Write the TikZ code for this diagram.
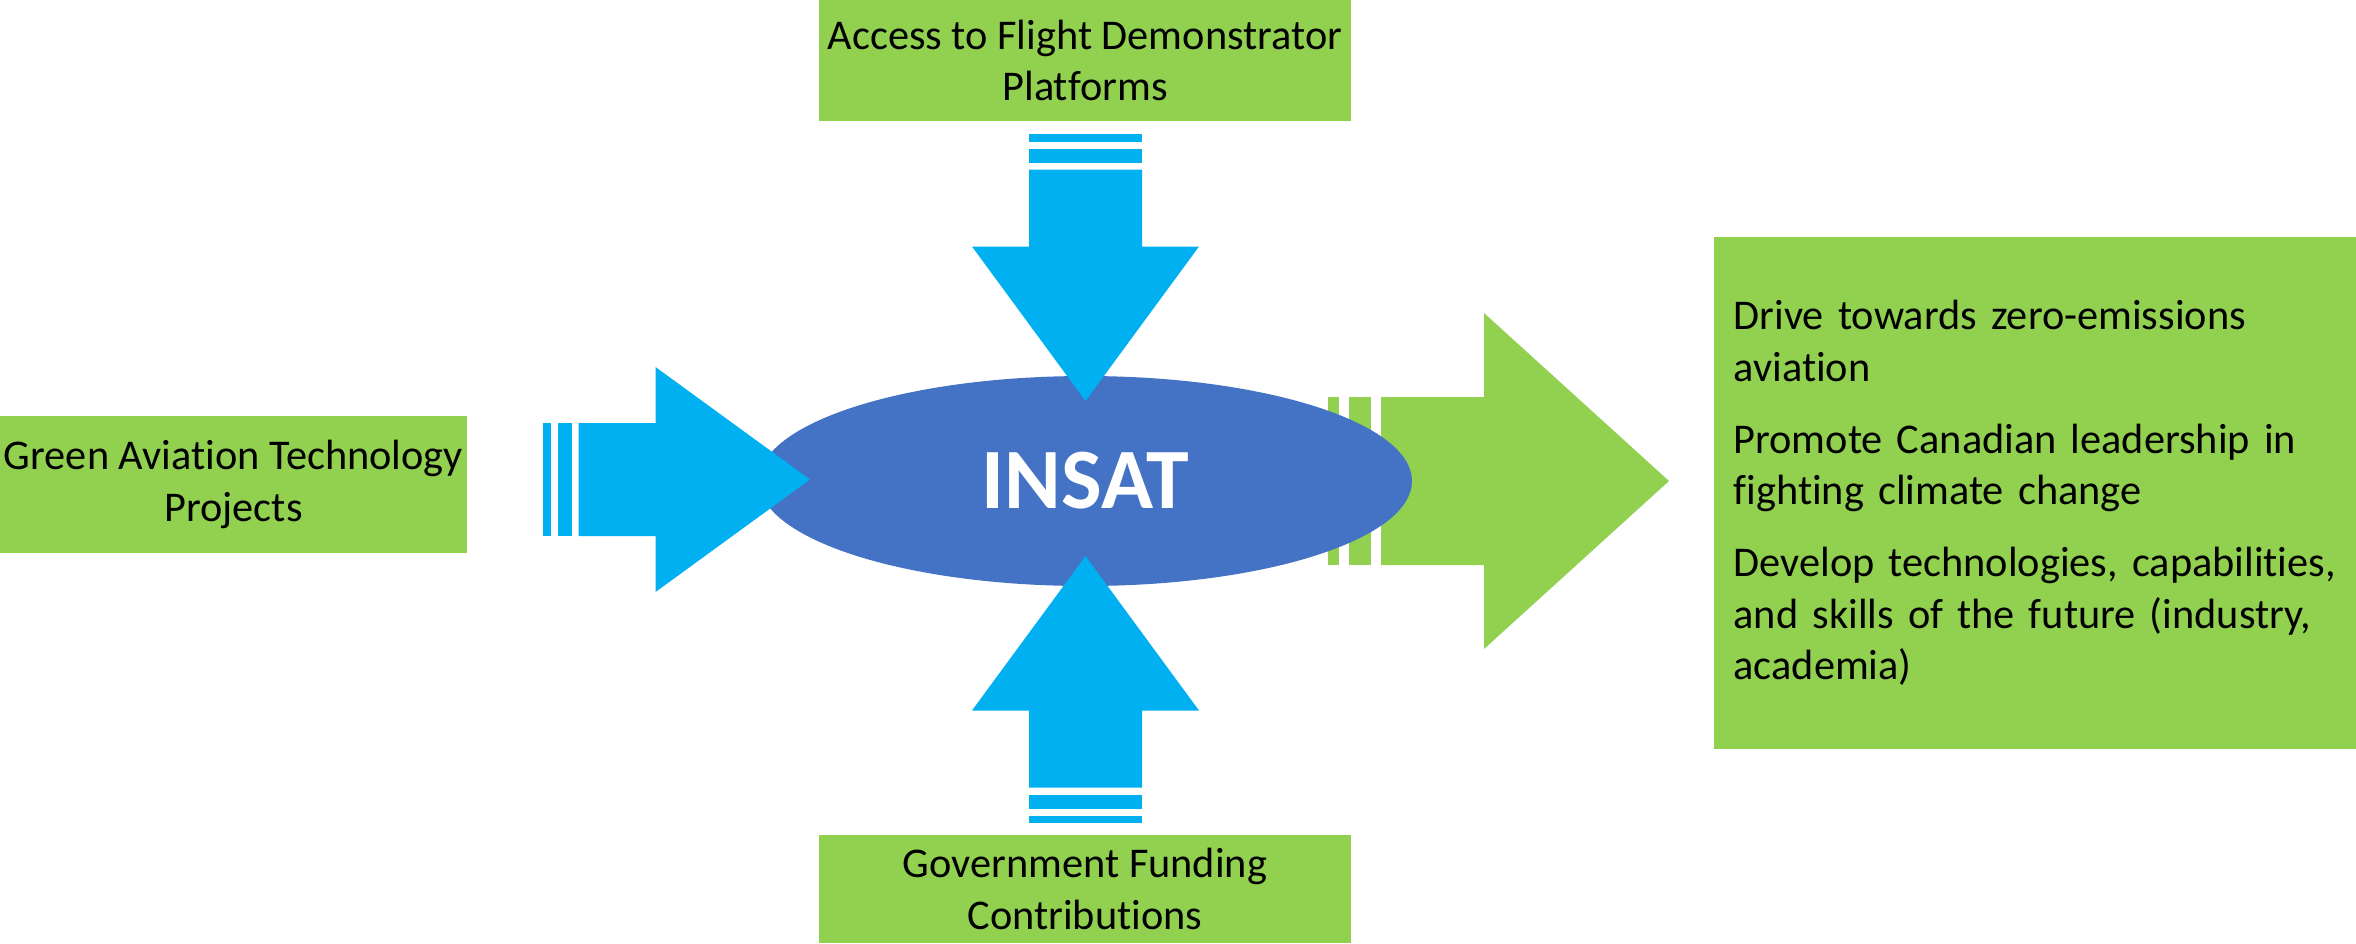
\documentclass[tikz,border=0pt]{standalone}
\usepackage{fontspec}
\setmainfont{Carlito}[Ligatures=NoCommon]
\usetikzlibrary{shapes.geometric}

\definecolor{leafgreen}{HTML}{92D050}
\definecolor{skyblue}{HTML}{00B0F0}
\definecolor{hubblue}{HTML}{4472C4}

\newcommand\bodyfont{\fontsize{12.7}{15.5}\selectfont}
\newcommand\hubfont{\fontsize{25.8}{30}\selectfont\bfseries}

\tikzset{
  % striped block arrow pointing along +x, tail at the origin
  % #1 first stripe, #2 gap, #3 second stripe, #4 shaft, #5 head length,
  % #6 shaft half width, #7 head half width
  pics/stripedarrow/.style n args={7}{code={
    \pgfmathsetmacro\sa{#1}
    \pgfmathsetmacro\sb{#1+#2}
    \pgfmathsetmacro\sc{#1+#2+#3}
    \pgfmathsetmacro\sd{#1+2*#2+#3}
    \pgfmathsetmacro\se{#1+2*#2+#3+#4}
    \pgfmathsetmacro\sf{#1+2*#2+#3+#4+#5}
    \fill (0,-#6) rectangle (\sa,#6);
    \fill (\sb,-#6) rectangle (\sc,#6);
    \fill (\sd,-#6) -- (\se,-#6) -- (\se,-#7) -- (\sf,0) -- (\se,#7)
          -- (\se,#6) -- (\sd,#6) -- cycle;
  }},
  greenbox/.style={fill=leafgreen, inner sep=0pt, align=center, font=\bodyfont},
  hub/.style={ellipse, fill=hubblue, inner sep=0pt, text=white, font=\hubfont},
}

\begin{document}
\begin{tikzpicture}[x=0.3pt, y=-0.3pt]
  \fill[white] (0,0) rectangle (2356,943);
  \useasboundingbox (0,0) rectangle (2356,943);

  % arrow anchors
  \coordinate (outtail)   at (1328,481);
  \coordinate (lefttail)  at (543,479.5);
  \coordinate (toptail)   at (1085.5,134);
  \coordinate (bottail)   at (1085.5,823);

  % outgoing arrow sits behind the hub
  \pic[color=leafgreen] at (outtail) {stripedarrow={11}{10}{22}{103}{185}{84}{168}};

  % hub
  \node[hub, minimum width=195.9pt, minimum height=63pt] (insat) at (1085.5,481) {INSAT};

  % incoming arrows on top of the hub
  \pic[color=skyblue] at (lefttail) {stripedarrow={7.5}{7}{14}{77}{154.5}{56.5}{112.5}};
  \pic[color=skyblue, rotate=-90] at (toptail) {stripedarrow={7.5}{7}{14}{77}{154.5}{56.5}{113.5}};
  \pic[color=skyblue, rotate=90] at (bottail) {stripedarrow={7.5}{7}{14}{77}{154.5}{56.5}{113.5}};

  % input boxes
  \node[greenbox, minimum width=159.6pt, minimum height=36.3pt] (flight) at (1085,60.5)
    {Access to Flight Demonstrator\\Platforms};
  \node[greenbox, minimum width=140.1pt, minimum height=41.1pt] (projects) at (233.5,484.5)
    {Green Aviation Technology\\Projects};
  \node[greenbox, minimum width=159.6pt, minimum height=32.4pt] (funding) at (1085,889)
    {Government Funding\\Contributions};

  % outcome box, running off the right edge
  \node[greenbox, anchor=west, align=left, inner xsep=6pt, text width=200pt,
        minimum height=153.6pt] (outcomes) at (1713,493)
    {Drive towards zero-emissions\\aviation\\[6pt]
     Promote Canadian leadership in\\fighting climate change\\[6pt]
     Develop technologies, capabilities,\\and skills of the future (industry,\\academia)};
\end{tikzpicture}
\end{document}
